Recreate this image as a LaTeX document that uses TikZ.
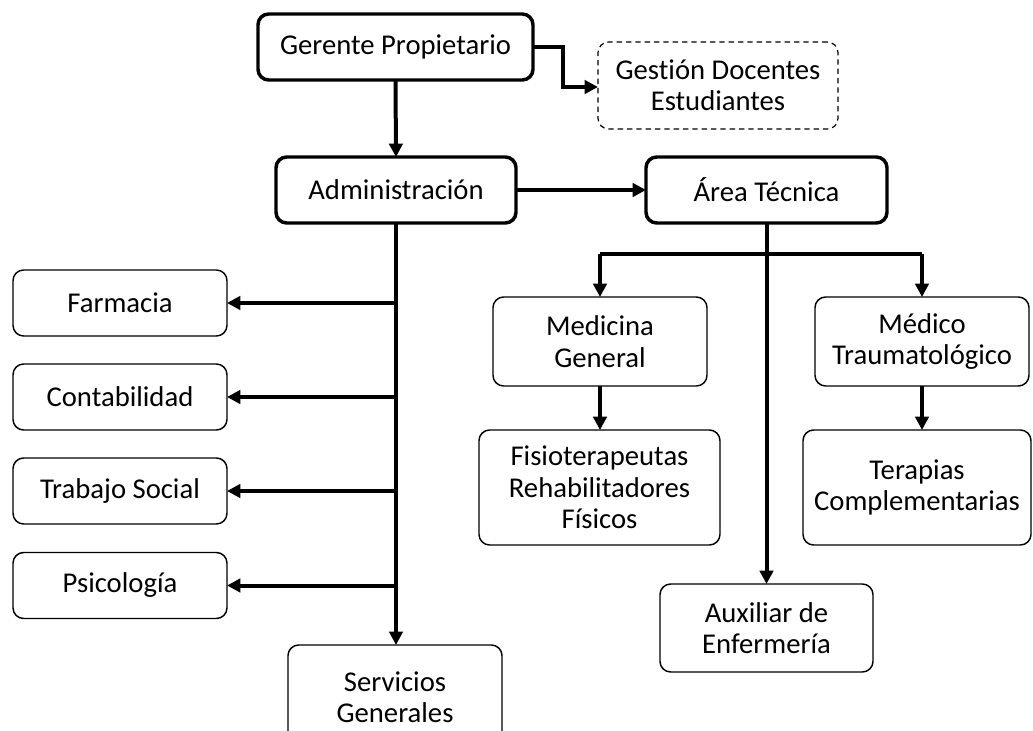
\documentclass[tikz,border=0pt]{standalone}
\usepackage{fontspec}
\setmainfont{Carlito}[Ligatures=NoCommon]
\usetikzlibrary{arrows.meta}
\tikzset{
  base/.style={rectangle, rounded corners=8pt, align=center, inner sep=2pt, outer sep=0pt,
    font=\fontsize{21.5}{23.5}\selectfont},
  thickbox/.style={base, draw, line width=2.6pt},
  thinbox/.style={base, draw, line width=1.1pt},
  dashbox/.style={base, draw, line width=0.9pt, dashed, dash pattern=on 4pt off 3pt},
  conn/.style={line width=3pt, -{Triangle[length=10pt,width=10pt]}},
  line/.style={line width=3pt},
}
\begin{document}
\begin{tikzpicture}[x=0.75pt,y=-0.75pt]
\useasboundingbox (0,0) rectangle (1033,731);
\begin{scope}
\clip (0,0) rectangle (1033,731);
% top level
\node[thickbox, minimum width=275*0.75pt, minimum height=66*0.75pt] (ger) at (395.5,47) {Gerente Propietario};
\node[dashbox, minimum width=240*0.75pt, minimum height=87*0.75pt] (ges) at (718,85.5) {Gestión Docentes\\Estudiantes};
\node[thickbox, minimum width=240*0.75pt, minimum height=66*0.75pt] (adm) at (396,190) {Administración};
\node[thickbox, minimum width=241*0.75pt, minimum height=66*0.75pt] (area) at (766.5,190) {Área Técnica};
% left column
\node[thinbox, minimum width=214*0.75pt, minimum height=66*0.75pt] (farm) at (120,303) {Farmacia};
\node[thinbox, minimum width=214*0.75pt, minimum height=66*0.75pt] (cont) at (120,397) {Contabilidad};
\node[thinbox, minimum width=214*0.75pt, minimum height=66*0.75pt] (trab) at (120,491) {Trabajo Social};
\node[thinbox, minimum width=214*0.75pt, minimum height=66*0.75pt] (psic) at (120,585.5) {Psicología};
\node[thinbox, minimum width=214*0.75pt, minimum height=104*0.75pt] (serv) at (395,697) {Servicios\\Generales};
% right part
\node[thinbox, minimum width=214*0.75pt, minimum height=89*0.75pt] (med) at (600,341.5) {Medicina\\General};
\node[thinbox, minimum width=214*0.75pt, minimum height=89*0.75pt] (medt) at (922,341.5) {Médico\\Traumatológico};
\node[thinbox, minimum width=241*0.75pt, minimum height=115*0.75pt] (fis) at (599.5,487.5) {Fisioterapeutas\\Rehabilitadores\\Físicos};
\node[thinbox, minimum width=228*0.75pt, minimum height=115*0.75pt] (ter) at (917,487.5) {Terapias\\Complementarias};
\node[thinbox, minimum width=213*0.75pt, minimum height=88*0.75pt] (aux) at (766.5,628) {Auxiliar de\\Enfermería};
\end{scope}
% connectors
\coordinate (g1) at (563,47);
\coordinate (g2) at (563,87);
\draw[conn] (ger.south) -- (adm.north);
\draw[conn] (ger.east |- g1) -- (g1) -- (g2) -- (ges.west |- g2);
\draw[conn] (adm.east) -- (area.west);
% administration trunk
\draw[conn] (adm.south) -- (adm.south |- serv.north);
\foreach \n in {farm,cont,trab,psic}{
  \draw[conn] (adm.south |- \n.east) -- (\n.east);
}
% technical area
\coordinate (br) at (766.5,254);
\draw[conn] (area.south) -- (aux.north);
\draw[line] (med.north |- br) -- (medt.north |- br);
\draw[conn] (med.north |- br) -- (med.north);
\draw[conn] (medt.north |- br) -- (medt.north);
\draw[conn] (med.south) -- (fis.north -| med.south);
\draw[conn] (medt.south) -- (ter.north -| medt.south);
\end{tikzpicture}
\end{document}
